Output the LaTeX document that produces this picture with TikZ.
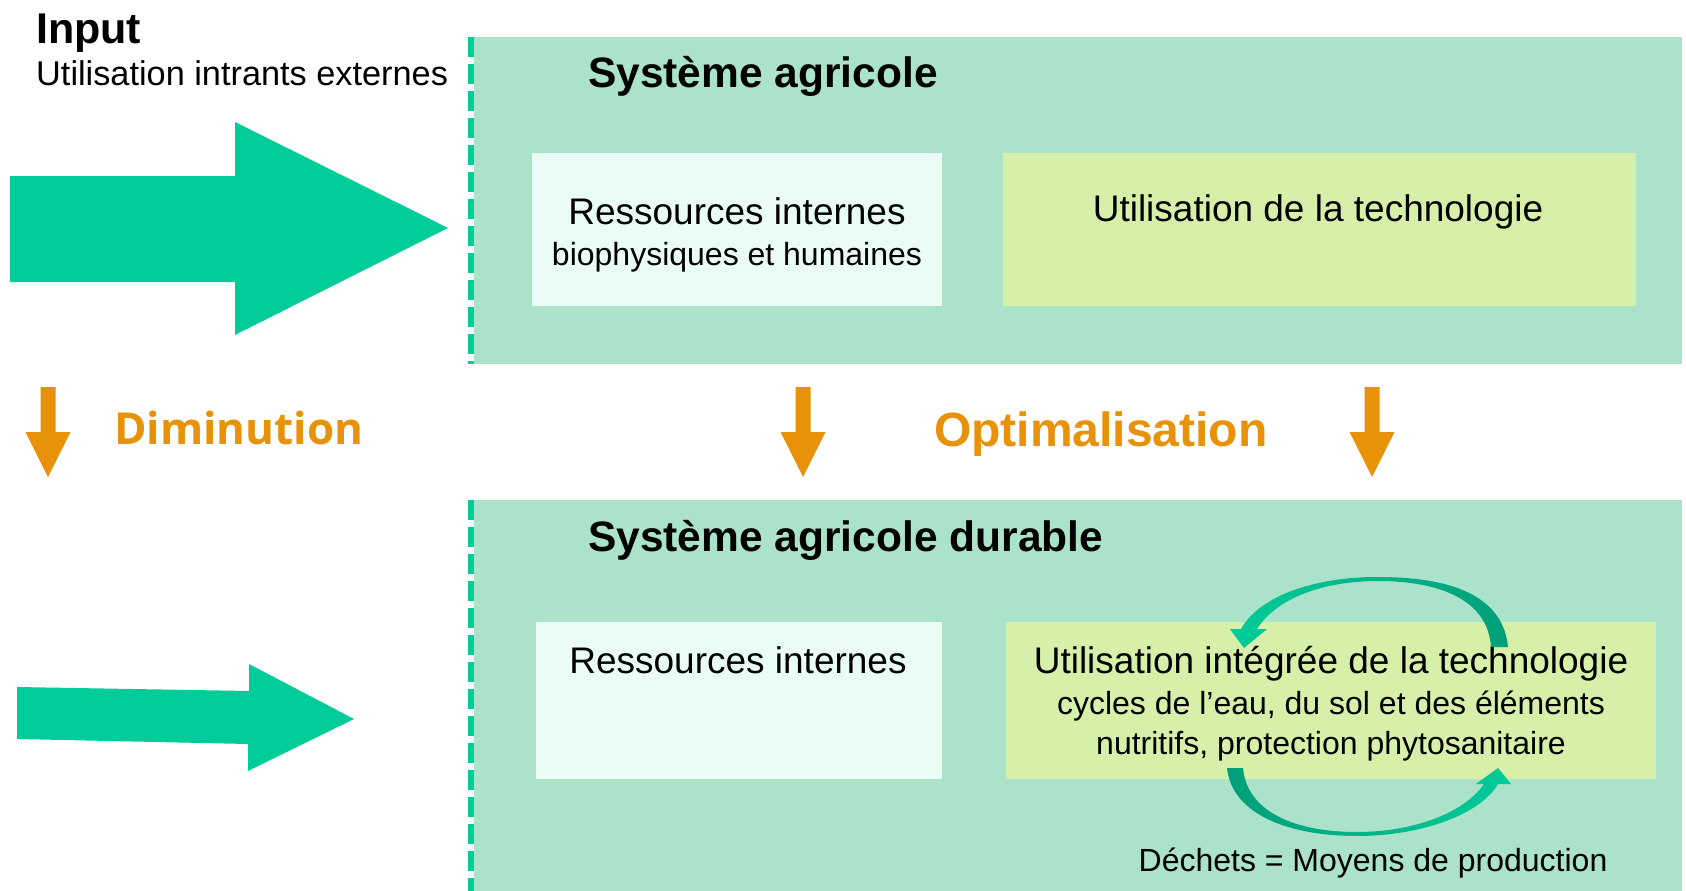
\documentclass[tikz,border=0pt]{standalone}
\usepackage{fontspec}
\setmainfont{Liberation Sans}
\newfontfamily\dimfont{Open Sans}
\definecolor{boxgreen}{HTML}{AAE2CA}
\definecolor{lightmint}{HTML}{EAFCF6}
\definecolor{limegreen}{HTML}{D6F0A9}
\definecolor{arrowgreen}{HTML}{00CC99}
\definecolor{darkgreen}{HTML}{009E78}
\definecolor{myorange}{HTML}{E8920A}
\begin{document}
\begin{tikzpicture}[x=1pt,y=-1pt,
  panel/.style={fill=boxgreen, draw=none, inner sep=0, outer sep=0},
  resbox/.style={fill=lightmint, draw=none, inner sep=0, outer sep=0},
  techbox/.style={fill=limegreen, draw=none, inner sep=0, outer sep=0},
  dashline/.style={draw=arrowgreen, line width=6pt, dash pattern=on 20pt off 7pt},
  blockarrow/.style={fill=arrowgreen, draw=none},
  downarrow/.style={fill=myorange, draw=none},
  txtbig/.style={font=\fontsize{37}{44}\selectfont, inner sep=0, anchor=base},
  txtsmall/.style={font=\fontsize{32}{38}\selectfont, inner sep=0, anchor=base},
  txttitle/.style={font=\fontsize{42.5}{50}\selectfont\bfseries, inner sep=0, anchor=base west},
  txtorange/.style={font=\fontsize{48}{56}\selectfont\bfseries, text=myorange, inner sep=0, anchor=base west}
]
\useasboundingbox (0,0) rectangle (1686,891);
\fill[white] (0,0) rectangle (1686,891);

% panels
\node[panel, minimum width=1208pt, minimum height=327pt] (top) at (1078,200.5) {};
\node[panel, minimum width=1208pt, minimum height=391pt] (bot) at (1078,695.5) {};
\draw[dashline] (top.north west) ++(-3,0) coordinate (d1) -- (d1 |- top.south);
\draw[dashline] (bot.north west) ++(-3,0) coordinate (d2) -- (d2 |- bot.south);

% inner boxes
\node[resbox, minimum width=410pt, minimum height=153pt] (res1) at (737,229.5) {};
\node[techbox, minimum width=633pt, minimum height=153pt] (tech1) at (1319.5,229.5) {};
\node[resbox, minimum width=406pt, minimum height=157pt] (res2) at (739,700.5) {};
\node[techbox, minimum width=650pt, minimum height=157pt] (tech2) at (1331,700.5) {};

% texts
\node[font=\fontsize{43}{50}\selectfont\bfseries, inner sep=0, anchor=base west] (input) at (36,44) {Input};
\node[font=\fontsize{34.3}{40}\selectfont, inner sep=0, anchor=base west] (ext) at (36,85) {Utilisation intrants externes};
\node[txttitle] (t1) at (588,88) {Système agricole};
\node[txtbig] (r1a) at (737,224) {Ressources internes};
\node[txtsmall] (r1b) at (737,265) {biophysiques et humaines};
\node[txtbig] (u1) at (1318,221) {Utilisation de la technologie};
\node[txttitle] (t2) at (588,551) {Système agricole durable};
\node[txtbig] (r2) at (738,673) {Ressources internes};
\node[txtbig] (u2a) at (1331,673) {Utilisation intégrée de la technologie};
\node[txtsmall] (u2b) at (1331,714) {cycles de l’eau, du sol et des éléments};
\node[txtsmall] (u2c) at (1331,754) {nutritifs, protection phytosanitaire};
\node[txtsmall] (dech) at (1373,871) {Déchets = Moyens de production};
\node[txtorange, font=\fontsize{44}{52}\selectfont\dimfont\bfseries] (dim) at (114,444) {Diminution};
\node[txtorange] (opt) at (934,446) {Optimalisation};

% big green block arrows
\fill[blockarrow] (10,176) -- (235,176) -- (235,122) -- (448,228) -- (235,335) -- (235,282) -- (10,282) -- cycle;
\fill[blockarrow] (17,687) -- (249,691) -- (249,664) -- (354,719) -- (248,771) -- (248,744) -- (17,739) -- cycle;

% orange down arrows
\foreach \cx/\nm in {48/oa, 803/ob, 1372/oc} {
  \fill[downarrow] (\cx-7.5,387) -- (\cx+7.5,387) -- (\cx+7.5,432) -- (\cx+22.5,432)
    -- (\cx,477) -- (\cx-22.5,432) -- (\cx-7.5,432) -- cycle;
}

% curved cycle arrows
\shade[left color=arrowgreen, right color=darkgreen]
  (1508,647) .. controls (1503,595) and (1450,577) .. (1378,577)
  .. controls (1310,577) and (1258,598) .. (1241,629)
  -- (1230,629) -- (1244,648) -- (1267,629) -- (1257,629)
  .. controls (1275,600) and (1320,581) .. (1378,581)
  .. controls (1440,581) and (1488,600) .. (1491,647) -- cycle;
\shade[left color=darkgreen, right color=arrowgreen]
  (1227,768) .. controls (1232,815) and (1290,836) .. (1357,836)
  .. controls (1420,836) and (1480,815) .. (1498,784)
  -- (1511,784) -- (1498,768) -- (1476,784) -- (1484,784)
  .. controls (1465,812) and (1415,832) .. (1357,832)
  .. controls (1295,832) and (1247,812) .. (1243,768) -- cycle;
\end{tikzpicture}
\end{document}
